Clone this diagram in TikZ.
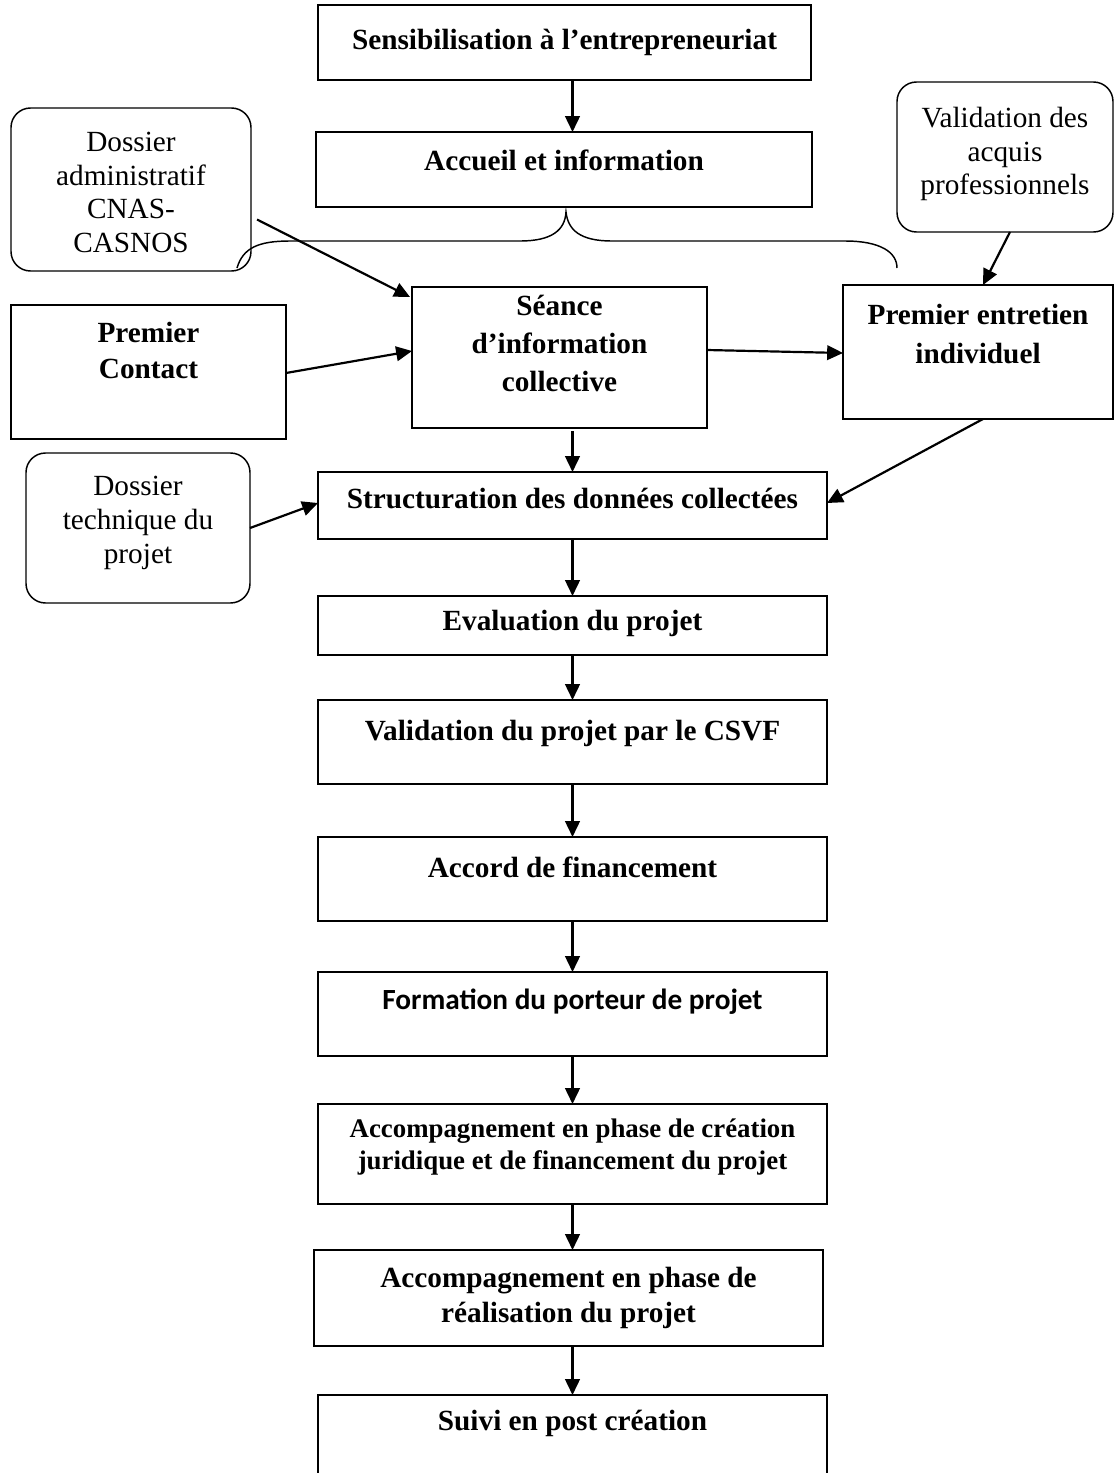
\documentclass[tikz,border=0pt]{standalone}
\usepackage{fontspec}
\setmainfont{Liberation Serif}
\newfontfamily\calibri{Carlito}
\usetikzlibrary{arrows.meta,calc}
\begin{document}
\begin{tikzpicture}[x=0.41pt,y=-0.41pt,
    sz/.style 2 args={minimum width=#1*0.41pt,minimum height=#2*0.41pt},
    lift/.style={yshift=#1*0.41pt},
    box/.style={draw=black,line width=0.6pt,rectangle,anchor=north west,outer sep=0pt,inner sep=0pt},
    bubble/.style={box,rounded corners=8pt},
    lbl/.style={align=center,inner sep=0pt,font=\fontsize{12}{14.4}\selectfont\bfseries},
    note/.style={align=center,inner sep=0pt,font=\fontsize{12}{13.8}\selectfont},
    arr/.style={line width=0.9pt,-{Triangle[length=6.5pt,width=6pt]}}]
  \useasboundingbox (0,0) rectangle (1115,1473);
  \node[box,sz={493}{75},label={[lbl]center:{Sensibilisation à l’entrepreneuriat}}] (sens) at (318,5) {};
  \node[box,sz={496}{75},label={[lbl,lift=9.5]center:{Accueil et information}}] (accueil) at (316,132) {};
  \node[bubble,sz={240}{163},label={[note,lift=-3]center:{Dossier\\administratif\\CNAS-\\CASNOS}}] (dosadm) at (11,108) {};
  \node[bubble,sz={216}{150},label={[note,lift=3]center:{Validation des\\acquis\\professionnels}}] (vae) at (897,82) {};
  \node[box,sz={295}{141},label={[lbl,lift=14,font=\fontsize{12}{15.6}\selectfont\bfseries]center:{Séance\\d’information\\collective}}] (seance) at (412,287) {};
  \node[box,sz={275}{134},label={[lbl,lift=21.5]center:{Premier\\Contact}}] (contact) at (11,305) {};
  \node[box,sz={270}{134},label={[lbl,lift=18,font=\fontsize{12}{15.6}\selectfont\bfseries]center:{Premier entretien\\individuel}}] (entretien) at (843,285) {};
  \node[bubble,sz={224}{150},label={[note,lift=5]center:{Dossier\\technique du\\projet}}] (dostech) at (26,453) {};
  \node[box,sz={509}{67},label={[lbl,lift=6.5]center:{Structuration des données collectées}}] (struct) at (318,472) {};
  \node[box,sz={509}{59},label={[lbl,lift=2]center:{Evaluation du projet}}] (eval) at (318,596) {};
  \node[box,sz={509}{84},label={[lbl,lift=9]center:{Validation du projet par le CSVF}}] (csvf) at (318,700) {};
  \node[box,sz={509}{84},label={[lbl,lift=12]center:{Accord de financement}}] (accord) at (318,837) {};
  \node[box,sz={509}{84},label={[lbl,lift=12,font=\calibri\fontsize{12}{14}\selectfont\bfseries]center:{Formation du porteur de projet}}] (formation) at (318,972) {};
  \node[box,sz={509}{100},label={[lbl,lift=7,font=\fontsize{11}{13}\selectfont\bfseries]center:{Accompagnement en phase de création\\juridique et de financement du projet}}] (creation) at (318,1104) {};
  \node[box,sz={509}{96},label={[lbl]center:{Accompagnement en phase de\\réalisation du projet}}] (realis) at (314,1250) {};
  \node[box,sz={509}{110},label={[lbl,lift=27]center:{Suivi en post création}}] (suivi) at (318,1395) {};
  \draw[line width=0.6pt] (237,268) .. controls (243,248) and (258,241) .. (290,241) -- (520,241)
    .. controls (552,241) and (565,230) .. (566,212) .. controls (568,230) and (580,241) .. (612,241)
    -- (845,241) .. controls (880,241) and (897,252) .. (897,268);
  \draw[arr] (sens.south -| struct) -- (accueil.north -| struct);
  \draw[arr] ($(dosadm.east)+(6,30)$) -- ($(seance.north west)+(-2,10)$);
  \draw[arr] ($(contact.east)+(0,1)$) -- ($(seance.west)+(0,-6.5)$);
  \draw[arr] ($(seance.east)+(0,-7.5)$) -- ($(entretien.west)+(0,1)$);
  \draw[arr] ($(vae.south)+(5,0)$) -- ($(entretien.north)+(5,0)$);
  \draw[arr] ($(seance.south -| struct)+(0,3)$) -- (struct.north);
  \draw[arr] ($(entretien.south)+(5,0)$) -- ($(struct.east)+(0,-2.5)$);
  \draw[arr] (dostech.east) -- ($(struct.west)+(0,-2.5)$);
  \draw[arr] (struct) -- (eval);
  \draw[arr] (eval) -- (csvf);
  \draw[arr] (csvf) -- (accord);
  \draw[arr] (accord) -- (formation);
  \draw[arr] (formation) -- (creation);
  \draw[arr] (creation.south) -- (realis.north -| creation);
  \draw[arr] (realis.south -| creation) -- (suivi.north);
\end{tikzpicture}
\end{document}
